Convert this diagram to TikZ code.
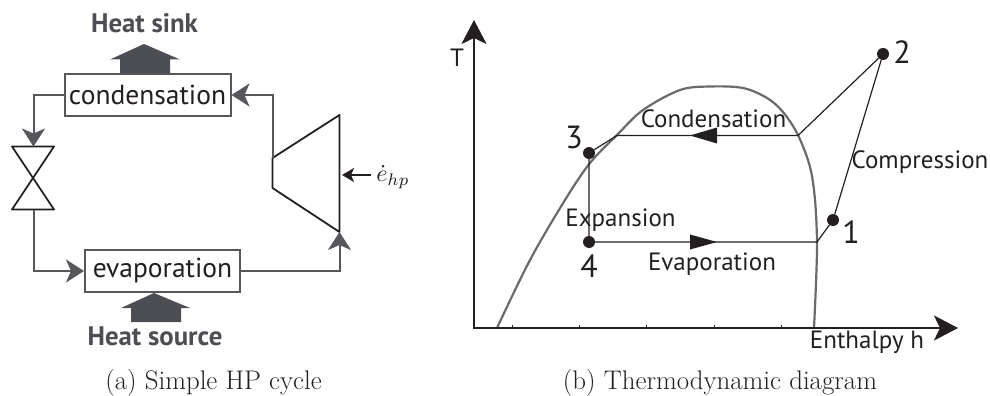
\documentclass[tikz,border=0pt]{standalone}
\usepackage{fontspec}
\setsansfont{PT Sans}
\usetikzlibrary{arrows.meta}
\definecolor{pipe}{HTML}{55575B}
\definecolor{ink}{HTML}{231F20}
\definecolor{dome}{HTML}{6A6A6A}
\definecolor{heat}{HTML}{4D4E53}
\tikzset{
  x=1pt,y=-1pt,
  boxnode/.style={draw=pipe,line width=2pt,fill=white,inner sep=0pt,font=\sffamily\fontsize{27.5}{27.5}\selectfont,text=ink},
  pipeline/.style={draw=pipe,line width=2pt},
  pipearrow/.style={pipeline,-{Stealth[length=18pt,width=23pt,inset=5pt]}},
  machine/.style={draw=ink,line width=1.8pt,line cap=round,line join=round},
  heatfill/.style={fill=heat},
  heatlabel/.style={inner sep=0pt,font=\sffamily\bfseries\fontsize{26.8}{26.8}\selectfont,text=heat},
  caption/.style={inner sep=0pt,font=\rmfamily\fontsize{26.9}{26.9}\selectfont,text=ink},
  axis/.style={draw=ink,line width=2.4pt,-{Stealth[length=24pt,width=25pt,inset=6pt]}},
  cycleline/.style={draw=ink,line width=1.2pt},
  flowtip/.style={fill=ink},
  statept/.style={circle,fill=ink,inner sep=0pt,minimum size=12pt},
  numlabel/.style={inner sep=0pt,font=\sffamily\fontsize{32}{32}\selectfont,text=ink},
  chartlabel/.style={inner sep=0pt,font=\sffamily\fontsize{25}{25}\selectfont,text=ink},
}
\begin{document}
\begin{tikzpicture}
\useasboundingbox (0,0) rectangle (990,396);
% ---- (a) cycle
\fill[heatfill] (144,44) -- (180,59.5) -- (170,59.5) -- (170,74) -- (120,74) -- (120,59.5) -- (110,59.5) -- cycle;
\node[heatlabel] (sink) at (144.5,23) {Heat sink};
\node[boxnode,minimum width=166pt,minimum height=42pt] (cond) at (147.5,95) {condensation};
\node[boxnode,minimum width=155pt,minimum height=42pt] (evap) at (162.5,271) {evaporation};
\fill[heatfill] (154,293) -- (190,308) -- (181,308) -- (181,322) -- (131,322) -- (131,308) -- (121,308) -- cycle;
\node[heatlabel] (source) at (155,336) {Heat source};
% valve
\coordinate (vtl) at (12,146.5);
\coordinate (vtr) at (54,146.5);
\coordinate (vbl) at (12,209.5);
\coordinate (vbr) at (54,209.5);
\draw[machine] (vtl) -- (vtr) -- (vbl) -- (vbr) -- (vtl);
\coordinate (vtop) at (33.5,146.5);
\coordinate (vbot) at (33.5,210);
\draw[pipearrow] (cond.west) -- (33.5,95) -- (vtop);
\draw[pipearrow] (vbot) -- (33.5,271) -- (evap.west);
% compressor
\coordinate (ctr) at (339.5,115);
\coordinate (cbr) at (339.5,232);
\coordinate (ctl) at (272.5,158);
\coordinate (cbl) at (272.5,188);
\draw[machine] (ctl) -- (ctr) -- (cbr) -- (cbl) -- cycle;
\draw[pipearrow] (evap.east) -- (339.5,271) -- (cbr);
\draw[pipearrow] (ctl) -- (272.5,95) -- (cond.east);
\node[inner sep=0pt,scale=2.4,text=ink] (work) at (393,177) {$\dot e_{hp}$};
\coordinate (wt) at (371,175);
\draw[draw=ink,line width=1.8pt,-{Stealth[length=12pt,width=14pt,inset=3pt]}] (wt) -- (342,175);
\node[caption] (capa) at (213.5,383) {(a) Simple HP cycle};
% ---- (b) chart
\coordinate (origin) at (474,328);
\coordinate (ytip) at (474,20);
\coordinate (xtip) at (958,328);
\draw[dome,line width=2.2pt,line cap=round] plot[smooth,tension=0.55] coordinates {
 (497,328) (530,260) (565,200) (590,163) (617,135) (643,110) (680,90) (710,86.5) (743,88) (767,98) (783,112) (798,135) (810,167) (815,200) (817,242) (816,283) (814,328)};
\draw[axis] (474,329) -- (ytip);
\draw[axis] (473,328) -- (xtip);
\foreach \tx in {512,579,646,714,781} \draw[ink,line width=1pt] (\tx,327) -- (\tx,325);
\node[chartlabel] (tlab) at (457,58) {T};
\node[statept] (p1) at (833,220) {};
\node[statept] (p2) at (883,54) {};
\node[statept] (p3) at (589,153) {};
\node[statept] (p4) at (589,242) {};
\coordinate (satl) at (617,135.5);
\coordinate (satv) at (798,135.5);
\coordinate (satr) at (817,242);
\draw[cycleline] (p3) -- (satl) -- (satv) -- (p2) -- (p1) -- (satr) -- (p4) -- (p3);
\fill[flowtip] (690,135.5) -- (717,127.5) -- (717,143.5) -- cycle;
\fill[flowtip] (717,242) -- (690,234.5) -- (690,249.5) -- cycle;
\node[numlabel] (n2) at (902,52) {2};
\node[numlabel] (n3) at (574,137) {3};
\node[numlabel] (n1) at (851,232) {1};
\node[numlabel] (n4) at (589,266) {4};
\node[chartlabel] (lc) at (713.5,119) {Condensation};
\node[chartlabel] (lp) at (920,162) {Compression};
\node[chartlabel] (lx) at (620.5,220) {Expansion};
\node[chartlabel] (lv) at (712,264) {Evaporation};
\node[chartlabel] (lh) at (867,342) {Enthalpy h};
\node[caption] (capb) at (720,383) {(b) Thermodynamic diagram};
\end{tikzpicture}
\end{document}
